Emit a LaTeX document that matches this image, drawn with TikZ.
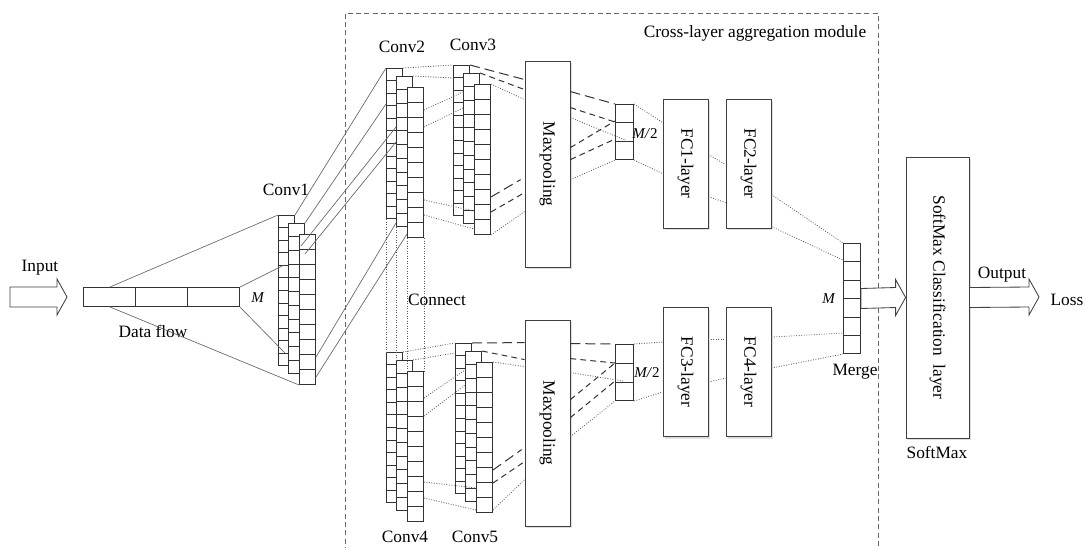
\documentclass[tikz,border=0pt]{standalone}
\usepackage{fontspec}
\setmainfont{Liberation Serif}
\usepackage{graphicx}
\usetikzlibrary{calc,shadows}

\newcommand\pxu{0.6pt}
% one column of cells: name, x, y, width, height, cells
\newcommand\cellcol[6]{%
  \node[colbox,minimum width=#4*\pxu,minimum height=#5*\pxu] (#1) at (#2,#3) {};
  \pgfmathtruncatemacro\lastcell{#6-1}
  \foreach \k in {1,...,\lastcell}
    \draw[cellline] ($(#1.north west)!\k/#6!(#1.south west)$) -- ($(#1.north east)!\k/#6!(#1.south east)$);
}
% three staggered columns of one conv layer
\newcommand\convstack[3]{%
  \cellcol{#1a}{#2}{#3}{16}{150}{12}
  \cellcol{#1b}{#2+10}{#3+8}{16}{150}{11}
  \cellcol{#1c}{#2+21}{#3+19}{16}{150}{10}
}
% wide hollow arrow from #1 to #2
\newcommand\wideflow[2]{%
  \draw[bigarrow] ($#1+(0,-10)$) -- ($#2+(-10,-10)$) -- ($#2+(-10,-18)$) -- #2
    -- ($#2+(-10,18)$) -- ($#2+(-10,10)$) -- ($#1+(0,10)$) -- cycle;
}

\begin{document}
\begin{tikzpicture}[x=0.6pt,y=-0.6pt,
    font=\fontsize{10.4}{12}\selectfont,
    colbox/.style={draw=black!80,fill=white,inner sep=0pt,anchor=north west,line width=0.6pt},
    cellline/.style={draw=black!80,line width=0.6pt},
    layerbox/.style={draw=black!75,fill=white,inner sep=0pt,line width=0.5pt,
      drop shadow={shadow xshift=1.3pt,shadow yshift=-1.3pt,opacity=0.25}},
    bigarrow/.style={draw=black!75,fill=white,line width=0.5pt},
    lbl/.style={inner sep=1pt},
    link/.style={draw=black!60,line width=0.4pt},
    dotlink/.style={draw=black!65,densely dotted,line width=0.5pt},
    longdash/.style={draw=black!80,line width=0.6pt,dash pattern=on 6pt off 3pt},
    shortdash/.style={draw=black!80,line width=0.6pt,dash pattern=on 3.5pt off 2.5pt},
    module/.style={draw=black!60,line width=0.5pt,dash pattern=on 3pt off 2pt}]
  \useasboundingbox (0,0) rectangle (1089,547);

  % module frame
  \draw[module] (345,552) -- (345,13) -- (878,13) -- (878,552);
  \node[lbl] (title) at (755,33) {Cross-layer aggregation module};

  % input side
  \coordinate (inA) at (10,297);
  \coordinate (inB) at (67,297);
  \wideflow{(inA)}{(inB)}
  \node[lbl] (input) at (40,268) {Input};
  \node[colbox,minimum width=156*\pxu,minimum height=19*\pxu] (flow) at (83,287) {};
  \draw[cellline] ($(flow.north west)!1/3!(flow.north east)$) -- ($(flow.south west)!1/3!(flow.south east)$);
  \draw[cellline] ($(flow.north west)!2/3!(flow.north east)$) -- ($(flow.south west)!2/3!(flow.south east)$);
  \node[lbl] (flowlbl) at (153,331) {Data flow};
  \node[lbl] (m0) at (258,298) {\small\textit{M}};

  % conv layers
  \convstack{c1}{278}{215}
  \convstack{c2}{386}{68}
  \convstack{c3}{453}{65}
  \convstack{c4}{386}{352}
  \convstack{c5}{455}{343}
  \node[lbl] (c1lbl) at (286,190) {Conv1};
  \node[lbl] (c2lbl) at (402,47) {Conv2};
  \node[lbl] (c3lbl) at (473,45) {Conv3};
  \node[lbl] (c4lbl) at (405,537) {Conv4};
  \node[lbl] (c5lbl) at (475,537) {Conv5};
  \node[lbl] (connect) at (437,300) {Connect};

  % pooling, fc and merge
  \node[layerbox,minimum width=45*\pxu,minimum height=206*\pxu] (mp1) at (547.5,164) {\rotatebox{-90}{Maxpooling}};
  \node[layerbox,minimum width=45*\pxu,minimum height=206*\pxu] (mp2) at (547.5,423) {\rotatebox{-90}{Maxpooling}};
  \cellcol{h1}{615}{104}{18}{55}{3}
  \cellcol{h2}{615}{344}{18}{56}{3}
  \node[lbl] (h1lbl) at (645,134) {\small\textit{M/}2};
  \node[lbl] (h2lbl) at (647,373) {\small\textit{M/}2};
  \node[layerbox,minimum width=45*\pxu,minimum height=129*\pxu] (fc1) at (685.5,163.5) {\rotatebox{-90}{FC1-layer}};
  \node[layerbox,minimum width=45*\pxu,minimum height=129*\pxu] (fc2) at (748.5,163.5) {\rotatebox{-90}{FC2-layer}};
  \node[layerbox,minimum width=45*\pxu,minimum height=129*\pxu] (fc3) at (685.5,372) {\rotatebox{-90}{FC3-layer}};
  \node[layerbox,minimum width=45*\pxu,minimum height=129*\pxu] (fc4) at (748.5,372) {\rotatebox{-90}{FC4-layer}};
  \cellcol{mg}{843}{243}{17}{110}{6}
  \node[lbl] (mlbl) at (829,299) {\small\textit{M}};
  \node[lbl] (mglbl) at (855,372) {Merge};

  % softmax and output
  \node[layerbox,minimum width=63*\pxu,minimum height=281*\pxu] (soft) at (937.5,297.5) {\rotatebox{-90}{SoftMax Classification~~layer}};
  \node[lbl] (softlbl) at (937,452) {SoftMax};
  \wideflow{(mg.east)}{(soft.west)}
  \coordinate (outB) at (1039,297);
  \wideflow{(soft.east)}{(outB)}
  \node[lbl] (outlbl) at (1002,275) {Output};
  \node[lbl] (loss) at (1067,300) {Loss};

  % data flow to Conv1
  \draw[link] ($(flow.north west)+(27,0)$) -- (c1a.north west);
  \draw[link] ($(flow.south west)+(27,0)$) -- (c1c.south west);
  \draw[link] (flow.north east) -- ($(c1a.north west)+(6,50)$);
  \draw[link] (flow.south east) -- ($(c1a.north west)+(7,138)$);

  % Conv1 to Conv2
  \draw[link] (c1a.north east) -- (c2a.north west);
  \draw[link] (c1b.north east) -- ($(c2a.north west)+(0,36)$);
  \draw[link] ($(c1c.north west)+(2,12)$) -- ($(c2b.north west)+(0,51)$);
  \draw[link] ($(c1c.north west)+(6,20)$) -- ($(c2b.north west)+(0,66)$);
  \draw[link] ($(c1c.north east)+(0,123)$) -- ($(c2b.south west)+(0,-4)$);
  \draw[link] ($(c1c.south east)+(0,-8)$) -- ($(c2c.south west)+(0,-4)$);

  % Conv2 to Conv4
  \draw[dotlink] (c2a.south west) -- (c4a.north west);
  \draw[dotlink] (c2b.south west) -- (c4b.north west);
  \draw[dotlink] (c2c.south west) -- (c4c.north west);
  \draw[dotlink] (c2c.south east) -- (c4c.north east);

  % Conv2 to Conv3
  \draw[dotlink] (c2a.north east) -- (c3a.north west);
  \draw[dotlink] (c2b.north east) -- ($(c3a.north west)+(0,13)$);
  \draw[dotlink] ($(c2c.north east)+(0,23)$) -- ($(c3b.north west)+(0,19)$);
  \draw[dotlink] ($(c2c.north east)+(0,40)$) -- ($(c3b.north west)+(0,35)$);
  \draw[dotlink] ($(c2c.north east)+(0,113)$) -- ($(c3c.north west)+(0,127)$);
  \draw[dotlink] ($(c2c.north east)+(0,128)$) -- ($(c3c.south west)+(0,-6)$);

  % Conv4 to Conv5
  \draw[dotlink] (c4a.north east) -- (c5a.north west);
  \draw[dotlink] (c4b.north east) -- ($(c5a.north west)+(0,10)$);
  \draw[dotlink] ($(c4c.north east)+(0,27)$) -- ($(c5b.north west)+(0,19)$);
  \draw[dotlink] ($(c4c.north east)+(0,45)$) -- ($(c5b.north west)+(0,34)$);
  \draw[dotlink] ($(c4c.north east)+(0,111)$) -- ($(c5c.north west)+(0,126)$);
  \draw[dotlink] ($(c4c.north east)+(0,127)$) -- ($(c5c.north west)+(0,148)$);

  % Conv3 to pooling
  \draw[longdash] (c3a.north east) -- ($(mp1.north west)+(0,19)$);
  \draw[shortdash] (c3b.north east) -- ($(mp1.north west)+(0,29)$);
  \draw[dotlink] (c3c.north east) -- ($(mp1.north west)+(0,39)$);
  \draw[longdash] ($(c3c.north east)+(0,113)$) -- ($(mp1.north west)+(-4,119)$);
  \draw[shortdash] ($(c3c.north east)+(0,128)$) -- ($(mp1.north west)+(0,132)$);
  \draw[dotlink] (c3c.south east) -- ($(mp1.north west)+(0,151)$);

  % Conv5 to pooling
  \draw[longdash] (c5a.north east) -- ($(mp2.north west)+(0,23)$);
  \draw[shortdash] (c5b.north east) -- ($(mp2.north west)+(0,40)$);
  \draw[dotlink] (c5c.north east) -- ($(mp2.north west)+(0,47)$);
  \draw[longdash] ($(c5c.north east)+(0,108)$) -- ($(mp2.north west)+(-3,130)$);
  \draw[shortdash] ($(c5c.north east)+(0,121)$) -- ($(mp2.north west)+(0,142)$);
  \draw[dotlink] ($(c5c.north east)+(0,148)$) -- ($(mp2.north west)+(0,160)$);

  % pooling to M/2
  \draw[longdash] ($(mp1.north east)+(0,31)$) -- (h1.north west);
  \draw[shortdash] ($(mp1.north east)+(0,47)$) -- ($(h1.north west)+(0,18)$);
  \draw[dotlink] ($(mp1.north east)+(0,57)$) -- ($(h1.north west)+(10,36)$);
  \draw[shortdash] ($(mp1.north east)+(0,87)$) -- ($(h1.north west)+(0,17)$);
  \draw[shortdash] ($(mp1.north east)+(0,99)$) -- ($(h1.north west)+(0,35)$);
  \draw[dotlink] ($(mp1.north east)+(0,119)$) -- (h1.south west);
  \draw[longdash] ($(mp2.north east)+(0,24)$) -- (h2.north west);
  \draw[shortdash] ($(mp2.north east)+(0,39)$) -- ($(h2.north west)+(0,19)$);
  \draw[dotlink] ($(mp2.north east)+(0,53)$) -- ($(h2.north west)+(8,37)$);
  \draw[shortdash] ($(mp2.north east)+(0,80)$) -- ($(h2.north west)+(0,19)$);
  \draw[shortdash] ($(mp2.north east)+(0,98)$) -- ($(h2.north west)+(0,37)$);
  \draw[dotlink] ($(mp2.north east)+(0,117)$) -- (h2.south west);

  % M/2 to fc layers
  \draw[dotlink] (h1.north east) -- ($(fc1.north west)+(0,24)$);
  \draw[dotlink] (h1.south east) -- ($(fc1.north west)+(0,75)$);
  \draw[dotlink] (h2.north east) -- ($(fc3.north west)+(0,35)$);
  \draw[dotlink] (h2.south east) -- ($(fc3.north west)+(0,85)$);
  \draw[dotlink] ($(fc1.north east)+(0,56)$) -- ($(fc2.north west)+(0,66)$);
  \draw[dotlink] ($(fc1.north east)+(0,98)$) -- ($(fc2.north west)+(0,104)$);
  \draw[dotlink] ($(fc3.north east)+(0,32)$) -- ($(fc4.north west)+(0,32)$);
  \draw[dotlink] ($(fc3.north east)+(0,75)$) -- ($(fc4.north west)+(0,71)$);

  % fc layers to merge
  \draw[dotlink] ($(fc2.north east)+(0,96)$) -- (mg.north west);
  \draw[dotlink] ($(fc2.north east)+(0,128)$) -- ($(mg.north west)+(0,17)$);
  \draw[dotlink] ($(fc4.north east)+(0,30)$) -- ($(mg.north west)+(0,90)$);
  \draw[dotlink] ($(fc4.north east)+(0,61)$) -- (mg.south west);
\end{tikzpicture}
\end{document}
